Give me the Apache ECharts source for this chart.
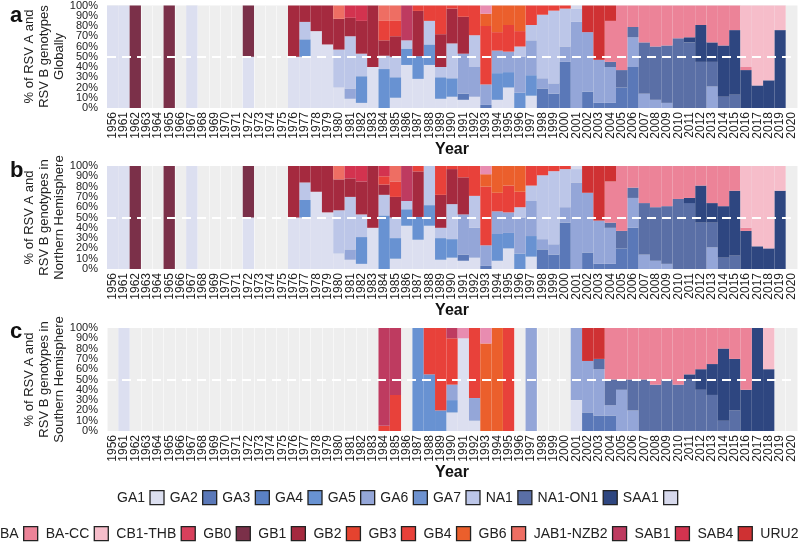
<!DOCTYPE html>
<html><head><meta charset="utf-8">
<script src="https://cdn.jsdelivr.net/npm/echarts@6/dist/echarts.min.js"></script>
<style>html,body{margin:0;padding:0;background:#fff}#c{width:800px;height:545px}</style>
</head><body><div id="c"></div>
<script>
const years = ['1956','1961','1962','1963','1964','1965','1966','1967','1968','1969','1970','1971','1972','1973','1974','1975','1976','1977','1978','1979','1980','1981','1982','1983','1984','1985','1986','1987','1988','1989','1990','1991','1992','1993','1994','1995','1996','1997','1998','1999','2000','2001','2002','2003','2004','2005','2006','2007','2008','2009','2010','2011','2012','2013','2014','2015','2016','2017','2018','2019','2020'];
const yTickLabels = ['0%','10%','20%','30%','40%','50%','60%','70%','80%','90%','100%'];
const genotypesA = ['GA1','GA2','GA3','GA4','GA5','GA6','GA7','NA1','NA1-ON1','SAA1'];
const genotypesB = ['BA','BA-CC','CB1-THB','GB0','GB1','GB2','GB3','GB4','GB6','JAB1-NZB2','SAB1','SAB4','URU2'];
const colorsA = ['#dcdff0','#5a78b8','#5a80c3','#6892d2','#94a6d8','#6e92cf','#bcc6e8','#5a6fa6','#2e4680','#d7d9ec'];
const colorsB = ['#ec8398','#f6bdca','#d8405c','#7b3049','#a52a3f','#e5432f','#e8413a','#eb5f2c','#ee6e63','#be3b60','#d3334f','#cf3133','#e88cb0'];

// ---- Panel a: Global  ([year, %]) ----
const gGA1 = [[1956,100],[1961,100],[1967,100],[1972,50],[1976,50],[1977,50],[1978,75],[1979,62],[1980,20],[1981,9],[1982,5],[1983,40],[1985,10],[1986,42],[1987,27],[1988,42],[1989,9],[1990,11],[1991,8],[1992,11],[1994,8],[1995,20],[1997,12]];
const gGA2 = [[1991,6],[1993,3],[1998,19],[1999,14],[2000,45],[2002,16],[2003,5],[2004,5],[2005,20],[2006,40]];
const gGA3 = [];
const gGA4 = [[1977,17],[1982,26],[1984,38],[1985,20],[1986,16],[1987,21],[1988,20],[1989,21],[1990,18],[1994,26],[1995,15],[1996,15],[1997,20]];
const gGA5 = [[1981,10],[1991,39],[1992,29],[1993,20],[1994,22],[1995,20],[1996,35],[1997,34],[1998,10],[1999,10],[2000,15],[2001,84],[2002,58],[2003,42],[2004,35],[2006,29],[2007,14],[2008,8],[2009,5],[2013,21]];
const gGA6 = [];
const gGA7 = [[1977,17],[1980,37],[1981,51],[1982,22],[1984,13],[1985,20],[1986,8],[1988,23],[1989,10],[1990,34],[1992,31],[1996,10],[1997,15],[1998,62],[1999,71],[2000,37],[2001,13]];
const gNA1 = [[2004,5],[2005,17],[2006,10],[2007,50],[2008,52],[2009,56],[2010,68],[2011,64],[2012,45],[2013,24],[2014,11],[2015,13]];
const gON1 = [[2011,5],[2012,36],[2013,19],[2014,50],[2015,63],[2016,37],[2017,22],[2018,27],[2019,76]];
const gSAA1 = [[2001,3]];
const gBA = [[2004,40],[2005,63],[2006,21],[2007,36],[2008,40],[2009,39],[2010,32],[2011,31],[2012,19],[2013,36],[2014,39],[2015,24],[2016,3]];
const gBACC = [[2016,60],[2017,78],[2018,73],[2019,24]];
const gCB1 = [];
const gGB0 = [[1962,100],[1965,100],[1972,50]];
const gGB1 = [[1976,50],[1977,16],[1978,25],[1979,38],[1980,30],[1981,18],[1982,32],[1983,60],[1984,15],[1985,20],[1987,42],[1989,32],[1990,34],[1991,36]];
const gGB2 = [];
const gGB3 = [[1984,19],[1985,15],[1987,5],[1988,15],[1989,28],[1990,3],[1991,11],[1992,29],[1993,57],[1994,18],[1995,26],[1996,15],[1997,19],[1998,9],[1999,5],[2000,3]];
const gGB4 = [[1993,12],[1994,26],[1995,19],[1996,25]];
const gGB6 = [[1980,13],[1984,15],[1985,15]];
const gJAB1 = [[1986,34]];
const gSAB1 = [[1981,12],[1982,15]];
const gSAB4 = [[2002,26],[2003,53],[2004,15]];
const gURU2 = [[1993,8]];

// ---- Panel b: Northern Hemisphere ----
const nGA1 = [[1956,100],[1961,100],[1967,100],[1972,50],[1976,50],[1977,50],[1978,75],[1979,55],[1980,15],[1981,9],[1982,5],[1983,40],[1985,10],[1986,42],[1987,27],[1988,42],[1989,9],[1990,11],[1991,8],[1992,11],[1994,8],[1995,20],[1997,12]];
const nGA2 = [[1991,6],[1993,3],[1998,19],[1999,14],[2000,45],[2002,16],[2003,5],[2004,5],[2005,20],[2006,40]];
const nGA3 = [];
const nGA4 = [[1977,17],[1982,26],[1984,52],[1985,20],[1986,16],[1987,21],[1988,20],[1989,21],[1990,18],[1994,26],[1995,15],[1996,15],[1997,20]];
const nGA5 = [[1981,10],[1991,39],[1992,29],[1993,20],[1994,22],[1995,20],[1996,35],[1997,34],[1998,10],[1999,10],[2000,15],[2001,84],[2002,58],[2003,42],[2004,35],[2006,29],[2007,14],[2008,8],[2009,5],[2013,21]];
const nGA6 = [];
const nGA7 = [[1977,17],[1980,42],[1981,51],[1982,22],[1984,20],[1985,20],[1986,8],[1988,38],[1989,10],[1990,34],[1992,31],[1996,10],[1997,15],[1998,62],[1999,71],[2000,37],[2001,13]];
const nNA1 = [[2004,5],[2005,17],[2006,10],[2007,50],[2008,52],[2009,56],[2010,68],[2011,64],[2012,45],[2013,24],[2014,11],[2015,13]];
const nON1 = [[2011,5],[2012,36],[2013,19],[2014,50],[2015,63],[2016,37],[2017,22],[2018,20],[2019,76]];
const nSAA1 = [[2001,3]];
const nBA = [[2004,40],[2005,63],[2006,21],[2007,36],[2008,40],[2009,39],[2010,32],[2011,31],[2012,19],[2013,36],[2014,39],[2015,24],[2016,3]];
const nBACC = [[2016,60],[2017,78],[2018,80],[2019,24]];
const nCB1 = [];
const nGB0 = [[1962,100],[1965,100],[1972,50]];
const nGB1 = [[1976,50],[1977,16],[1978,25],[1979,45],[1980,30],[1981,18],[1982,32],[1983,60],[1984,10],[1985,20],[1987,42],[1989,32],[1990,34],[1991,36]];
const nGB2 = [];
const nGB3 = [[1984,8],[1985,15],[1987,5],[1989,28],[1990,3],[1991,11],[1992,29],[1993,57],[1994,18],[1995,26],[1996,15],[1997,19],[1998,9],[1999,5],[2000,3]];
const nGB4 = [[1993,12],[1994,26],[1995,19],[1996,25]];
const nGB6 = [[1980,13],[1985,15]];
const nJAB1 = [[1986,34]];
const nSAB1 = [[1981,12],[1982,15],[1984,10]];
const nSAB4 = [[2002,26],[2003,53],[2004,15]];
const nURU2 = [[1993,8]];

// ---- Panel c: Southern Hemisphere ----
const sGA1 = [[1961,100],[1990,18],[1991,90],[1992,10],[2001,30]];
const sGA2 = [[2002,18],[2003,15],[2004,15]];
const sGA3 = [];
const sGA4 = [[1987,100],[1988,55],[1989,20],[1990,12]];
const sGA5 = [[1990,15],[1992,22],[1997,100],[2001,70],[2002,50],[2003,45],[2004,10],[2005,40],[2006,20]];
const sGA6 = [];
const sGA7 = [];
const sNA1 = [[2003,10],[2004,25],[2005,10],[2006,30],[2007,50],[2008,45],[2009,50],[2010,45],[2011,50],[2012,40],[2013,35],[2014,10],[2015,20]];
const sON1 = [[2011,5],[2012,20],[2013,30],[2014,70],[2015,50],[2016,40],[2017,100],[2018,60]];
const sSAA1 = [];
const sBA = [[2004,50],[2005,50],[2006,50],[2007,50],[2008,55],[2009,50],[2010,55],[2011,45],[2012,40],[2013,35],[2014,20],[2015,30],[2016,60]];
const sBACC = [[2018,40]];
const sCB1 = [];
const sGB0 = [];
const sGB1 = [];
const sGB2 = [];
const sGB3 = [[1984,5],[1985,35],[1988,45],[1989,80],[1990,45],[1992,68],[1995,100]];
const sGB4 = [[1993,85],[1994,100]];
const sGB6 = [];
const sJAB1 = [[1984,95],[1985,65],[1990,10]];
const sSAB1 = [];
const sSAB4 = [[2002,32],[2003,30]];
const sURU2 = [[1991,10],[1993,15]];

const panelData = [
  [gGA1,gGA2,gGA3,gGA4,gGA5,gGA6,gGA7,gNA1,gON1,gSAA1,gBA,gBACC,gCB1,gGB0,gGB1,gGB2,gGB3,gGB4,gGB6,gJAB1,gSAB1,gSAB4,gURU2],
  [nGA1,nGA2,nGA3,nGA4,nGA5,nGA6,nGA7,nNA1,nON1,nSAA1,nBA,nBACC,nCB1,nGB0,nGB1,nGB2,nGB3,nGB4,nGB6,nJAB1,nSAB1,nSAB4,nURU2],
  [sGA1,sGA2,sGA3,sGA4,sGA5,sGA6,sGA7,sNA1,sON1,sSAA1,sBA,sBACC,sCB1,sGB0,sGB1,sGB2,sGB3,sGB4,sGB6,sJAB1,sSAB1,sSAB4,sURU2]
];
const panelTitles = ['% of RSV A and\nRSV B genotypes\nGlobally','% of RSV A and\nRSV B genotypes in\nNorthern Hemisphere','% of RSV A and\nRSV B genotypes in\nSouthern Hemisphere'];
const panelLetters = ['a','b','c'];

const FONT = 'Liberation Sans, Arial, sans-serif';
const names = genotypesA.concat(genotypesB);
const colors = colorsA.concat(colorsB);
const gridTops = [5, 166, 328];
const letterY = [16, 171, 332];
const gridH = 103;

const grids = [], xAxes = [], yAxes = [], series = [], graphics = [];
gridTops.forEach((top, p) => {
  grids.push({left:107, top:top, width:690, height:gridH, show:true, backgroundColor:'#eeeeee', borderWidth:0});
  xAxes.push({type:'category', gridIndex:p, data:years, axisLine:{show:false}, axisTick:{show:false},
    axisLabel:{rotate:90, interval:0, fontSize:12, color:'#222', margin:4, fontFamily:FONT},
    splitLine:{show:true, interval:0, lineStyle:{color:'#f7f7f7', width:1}}});
  yAxes.push({type:'value', gridIndex:p, min:0, max:100, interval:10, axisLine:{show:false}, axisTick:{show:false},
    splitLine:{show:false}, axisLabel:{show:false}});
  yAxes.push({type:'category', gridIndex:p, data:yTickLabels, boundaryGap:false, position:'left',
    axisLine:{show:false}, axisTick:{show:false}, splitLine:{show:false},
    axisLabel:{interval:0, fontSize:11, color:'#222', margin:9, fontFamily:FONT}});
  const dense = panelData[p].map(list => {
    const arr = years.map(() => 0);
    list.forEach(([y, v]) => { const i = years.indexOf(String(y)); if (i >= 0) arr[i] = v; });
    return arr;
  });
  const totals = years.map((_, i) => dense.reduce((s, a) => s + a[i], 0));
  dense.forEach((arr, k) => {
    const s = {type:'bar', name:names[k], stack:'p'+p, xAxisIndex:p, yAxisIndex:2*p, barCategoryGap:'0%',
      itemStyle:{color:colors[k]}, emphasis:{disabled:true}, silent:true,
      data: arr.map((v, i) => totals[i] > 0 ? v * 100 / totals[i] : 0)};
    if (k === names.length - 1) {
      s.markLine = {silent:true, symbol:'none', label:{show:false},
        lineStyle:{color:'#ffffff', type:[9,6], width:2, opacity:1}, data:[{yAxis:50}]};
    }
    series.push(s);
  });
  graphics.push({type:'text', x:10, y:letterY[p], style:{text:panelLetters[p], font:'bold 22px ' + FONT, fill:'#111', textVerticalAlign:'middle'}});
  graphics.push({type:'text', x:44, y:top + gridH/2, rotation:Math.PI/2,
    style:{text:panelTitles[p], font:'13px ' + FONT, fill:'#222', textAlign:'center', textVerticalAlign:'middle', lineHeight:15}});
  graphics.push({type:'text', x:452, y:top + gridH + 42, style:{text:'Year', font:'bold 16px ' + FONT, fill:'#111', textAlign:'center', textVerticalAlign:'middle'}});
});

const legendCommon = {icon:'rect', itemWidth:14, itemHeight:14, align:'right', selectedMode:false, padding:0,
  textStyle:{fontSize:14, color:'#222', fontFamily:FONT},
  itemStyle:{borderColor:'#222', borderWidth:1.3}};

const chart = echarts.init(document.getElementById('c'), null, {renderer:'canvas'});
chart.setOption({
  animation:false,
  textStyle:{fontFamily:FONT},
  grid:grids, xAxis:xAxes, yAxis:yAxes, series:series, graphic:graphics,
  legend:[
    Object.assign({}, legendCommon, {data:genotypesA, left:117, top:490, itemGap:5}),
    Object.assign({}, legendCommon, {data:genotypesB, left:0, top:526, itemGap:7.4, width:900})
  ]
});
</script></body></html>
